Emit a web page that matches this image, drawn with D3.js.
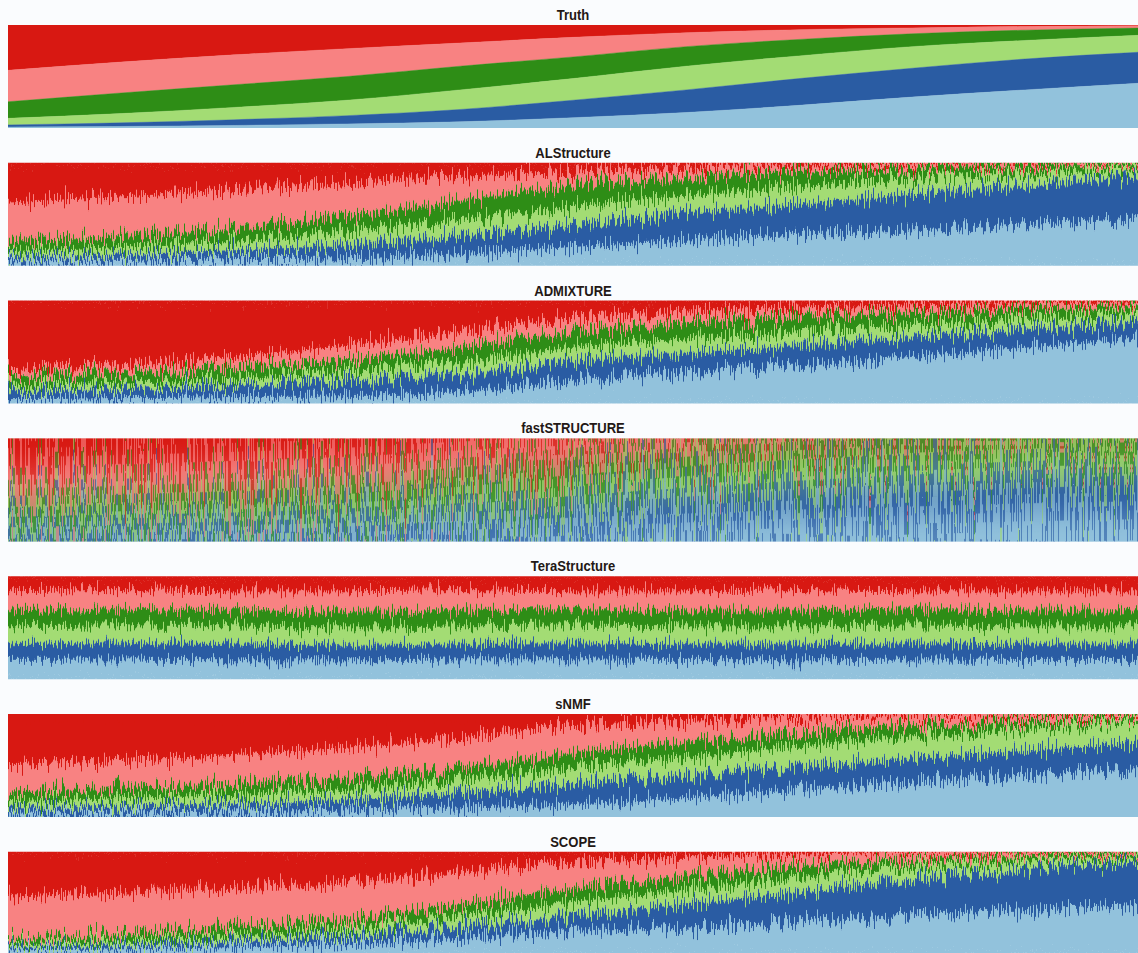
<!DOCTYPE html>
<html>
<head>
<meta charset="utf-8">
<script src="https://cdn.jsdelivr.net/npm/d3@7"></script>
<style>
  html, body { margin: 0; padding: 0; background: #fafcfe; }
  svg { display: block; }
  .title { font-family: "Liberation Sans", Arial, sans-serif; font-weight: bold; font-size: 14.5px; fill: #231815; }
</style>
</head>
<body>
<svg id="chart" width="1138" height="953"></svg>
<script>
// cluster colours, top of the stack first
const clusterColors = ["#d81812", "#f88282", "#2e8d16", "#a3dc74", "#2a5ca3", "#92c2dc"];

// positions along the individuals axis where boundaries were read (0 = left, 1 = right)
const knots = [0, 0.1, 0.2, 0.3, 0.4, 0.5, 0.6, 0.7, 0.8, 0.9, 1];

// cumulative boundaries (fraction from top) below red, pink, dark green, light green, dark blue
const truthBounds = [
  [0.44, 0.36, 0.29, 0.23, 0.175, 0.12, 0.075, 0.045, 0.028, 0.015, 0.008],
  [0.745, 0.66, 0.58, 0.50, 0.40, 0.31, 0.21, 0.14, 0.085, 0.05, 0.03],
  [0.906, 0.86, 0.80, 0.73, 0.63, 0.52, 0.40, 0.30, 0.21, 0.15, 0.10],
  [0.97, 0.95, 0.92, 0.88, 0.82, 0.73, 0.63, 0.52, 0.42, 0.33, 0.265],
  [0.99, 0.985, 0.975, 0.96, 0.94, 0.90, 0.85, 0.78, 0.70, 0.63, 0.566]
];
const alstructureBounds = [
  [0.39, 0.33, 0.27, 0.20, 0.14, 0.09, 0.05, 0.03, 0.02, 0.012, 0.007],
  [0.76, 0.71, 0.63, 0.52, 0.37, 0.22, 0.14, 0.09, 0.06, 0.04, 0.026],
  [0.86, 0.82, 0.76, 0.67, 0.56, 0.43, 0.32, 0.24, 0.16, 0.11, 0.065],
  [0.91, 0.89, 0.85, 0.80, 0.72, 0.60, 0.49, 0.40, 0.31, 0.22, 0.13],
  [0.96, 0.955, 0.94, 0.93, 0.89, 0.82, 0.76, 0.70, 0.66, 0.61, 0.54]
];
const admixtureBounds = [
  [0.67, 0.62, 0.55, 0.44, 0.31, 0.17, 0.11, 0.07, 0.05, 0.03, 0.02],
  [0.73, 0.70, 0.65, 0.57, 0.46, 0.30, 0.22, 0.15, 0.12, 0.08, 0.055],
  [0.82, 0.80, 0.76, 0.68, 0.59, 0.46, 0.38, 0.31, 0.25, 0.18, 0.12],
  [0.88, 0.86, 0.83, 0.78, 0.71, 0.59, 0.51, 0.44, 0.36, 0.28, 0.20],
  [0.96, 0.95, 0.94, 0.93, 0.89, 0.78, 0.70, 0.63, 0.55, 0.46, 0.37]
];
const faststructureBounds = [
  [0.27, 0.25, 0.22, 0.18, 0.12, 0.07, 0.04, 0.03, 0.02, 0.015, 0.01],
  [0.58, 0.55, 0.51, 0.45, 0.37, 0.27, 0.18, 0.12, 0.08, 0.06, 0.04],
  [0.74, 0.71, 0.68, 0.63, 0.56, 0.47, 0.37, 0.29, 0.23, 0.19, 0.16],
  [0.85, 0.83, 0.81, 0.77, 0.72, 0.65, 0.57, 0.50, 0.44, 0.40, 0.36],
  [0.95, 0.94, 0.93, 0.91, 0.89, 0.86, 0.82, 0.78, 0.75, 0.72, 0.70]
];
const terastructureBounds = [
  [0.15, 0.14, 0.15, 0.15, 0.14, 0.15, 0.15, 0.14, 0.15, 0.15, 0.15],
  [0.33, 0.32, 0.33, 0.34, 0.33, 0.32, 0.33, 0.33, 0.32, 0.33, 0.33],
  [0.49, 0.48, 0.49, 0.50, 0.49, 0.48, 0.49, 0.49, 0.48, 0.49, 0.49],
  [0.66, 0.65, 0.66, 0.67, 0.66, 0.65, 0.66, 0.66, 0.65, 0.66, 0.66],
  [0.815, 0.81, 0.82, 0.82, 0.81, 0.81, 0.815, 0.82, 0.81, 0.815, 0.815]
];
const snmfBounds = [
  [0.49, 0.45, 0.40, 0.33, 0.24, 0.12, 0.07, 0.04, 0.025, 0.015, 0.01],
  [0.765, 0.72, 0.68, 0.62, 0.52, 0.38, 0.28, 0.19, 0.12, 0.07, 0.04],
  [0.85, 0.82, 0.79, 0.74, 0.64, 0.52, 0.42, 0.32, 0.23, 0.15, 0.08],
  [0.91, 0.89, 0.87, 0.83, 0.77, 0.68, 0.60, 0.51, 0.43, 0.36, 0.29],
  [0.97, 0.96, 0.95, 0.93, 0.91, 0.88, 0.82, 0.74, 0.67, 0.60, 0.54]
];
const scopeBounds = [
  [0.44, 0.40, 0.36, 0.30, 0.20, 0.10, 0.06, 0.03, 0.015, 0.01, 0.006],
  [0.85, 0.80, 0.73, 0.65, 0.52, 0.36, 0.24, 0.14, 0.08, 0.04, 0.02],
  [0.90, 0.87, 0.82, 0.74, 0.63, 0.49, 0.37, 0.25, 0.15, 0.09, 0.055],
  [0.93, 0.91, 0.87, 0.81, 0.73, 0.62, 0.51, 0.40, 0.27, 0.17, 0.10],
  [0.96, 0.95, 0.93, 0.90, 0.85, 0.78, 0.74, 0.68, 0.62, 0.57, 0.52]
];

const panelTitles = ["Truth", "ALStructure", "ADMIXTURE", "fastSTRUCTURE", "TeraStructure", "sNMF", "SCOPE"];
const panelBounds = [truthBounds, alstructureBounds, admixtureBounds, faststructureBounds,
                     terastructureBounds, snmfBounds, scopeBounds];
// how each panel is rendered: smooth, noisy (spiky edges) or striped
const panelStyle = ["smooth", "noisy", "noisy", "striped", "noisy", "noisy", "noisy"];

const left = 8, right = 1138;
const firstTop = 25, step = 137.8, panelH = 103;

const svg = d3.select("#chart");
const defs = svg.append("defs");

const x = d3.scaleLinear().domain([0, 1]).range([left, right]);

function newFilter(id) {
  return defs.append("filter").attr("id", id)
    .attr("filterUnits", "userSpaceOnUse")
    .attr("x", 0).attr("y", 0).attr("width", 1138).attr("height", 953)
    .attr("color-interpolation-filters", "sRGB");
}

function addNoiseFilter(id, opt) {
  const f = newFilter(id);
  f.append("feTurbulence").attr("type", "fractalNoise")
    .attr("baseFrequency", opt.freq).attr("numOctaves", opt.octaves).attr("seed", opt.seed)
    .attr("result", "noise");
  let src = "noise";
  if (opt.steps) {
    // stretch and quantise the noise so whole columns shift together (crisp stripes)
    const ct = f.append("feComponentTransfer").attr("in", "noise").attr("result", "qnoise");
    ct.append("feFuncR").attr("type", "discrete").attr("tableValues", opt.steps);
    src = "qnoise";
  }
  f.append("feColorMatrix").attr("in", src).attr("type", "matrix")
    .attr("values", "0 0 0 0 0.5  1 0 0 0 0  0 0 0 0 0  0 0 0 0 1").attr("result", "map");
  f.append("feDisplacementMap").attr("in", "SourceGraphic").attr("in2", "map")
    .attr("scale", opt.scale).attr("xChannelSelector", "R").attr("yChannelSelector", "G")
    .attr("result", "disp");
  if (opt.blur) f.append("feGaussianBlur").attr("in", "disp").attr("stdDeviation", opt.blur);
}

// draw the stacked memberships into g; mirrored copies above/below the panel
// let columns shifted by the noise pick up neighbouring memberships
function drawStack(g, bounds, y, mirrored) {
  const copies = mirrored ? [0, -1, 1] : [0];
  const last = clusterColors.length - 1;
  copies.forEach(m => {
    clusterColors.forEach((col, k) => {
      const upper = k === 0 ? knots.map(() => 0) : bounds[k - 1];
      const lower = k === last ? knots.map(() => 1) : bounds[k];
      const fy0 = m === 0 ? (i => upper[i]) : m < 0 ? (i => -lower[i]) : (i => 2 - lower[i]);
      const fy1 = m === 0 ? (i => lower[i]) : m < 0 ? (i => -upper[i]) : (i => 2 - upper[i]);
      const area = d3.area()
        .x((d, i) => x(knots[i]))
        .y0((d, i) => y(fy0(i)))
        .y1((d, i) => y(fy1(i)))
        .curve(d3.curveMonotoneX);
      g.append("path").attr("d", area(knots)).attr("fill", col)
        .attr("stroke", col).attr("stroke-width", 0.4);
    });
  });
}

panelTitles.forEach((title, p) => {
  const top = firstTop + p * step;
  const y = d3.scaleLinear().domain([0, 1]).range([top, top + panelH]);
  const bounds = panelBounds[p];
  const style = panelStyle[p];

  svg.append("text").attr("class", "title")
    .attr("transform", `translate(${(left + right) / 2},${top - 5}) scale(0.9,1)`)
    .attr("text-anchor", "middle").text(title);

  defs.append("clipPath").attr("id", "clip" + p)
    .append("rect").attr("x", left).attr("y", top).attr("width", right - left).attr("height", panelH);

  const clipped = svg.append("g").attr("clip-path", `url(#clip${p})`);

  if (style === "smooth") {
    drawStack(clipped.append("g"), bounds, y, false);
  } else if (style === "noisy") {
    addNoiseFilter("f" + p, { freq: "0.75 0.02", octaves: 2, scale: p === 4 ? 30 : 38, seed: p * 7 + 3, blur: "0.35 0" });
    drawStack(clipped.append("g").attr("filter", `url(#f${p})`), bounds, y, true);
  } else {
    // soft vertical mix underneath, crisp per-individual stripes on top
    newFilter("soft" + p).append("feGaussianBlur").attr("stdDeviation", "0 14");
    drawStack(clipped.append("g").attr("filter", `url(#soft${p})`), bounds, y, true);
    addNoiseFilter("f" + p, {
      freq: "0.45 0.0005", octaves: 3, scale: 150, seed: 11, blur: "0.5 0",
      steps: "0 0 0 0 0.1 0.2 0.3 0.38 0.44 0.5 0.56 0.62 0.7 0.8 0.9 1 1 1 1 1"
    });
    drawStack(clipped.append("g").attr("filter", `url(#f${p})`).attr("opacity", 0.6), bounds, y, true);
  }
});
</script>
</body>
</html>
